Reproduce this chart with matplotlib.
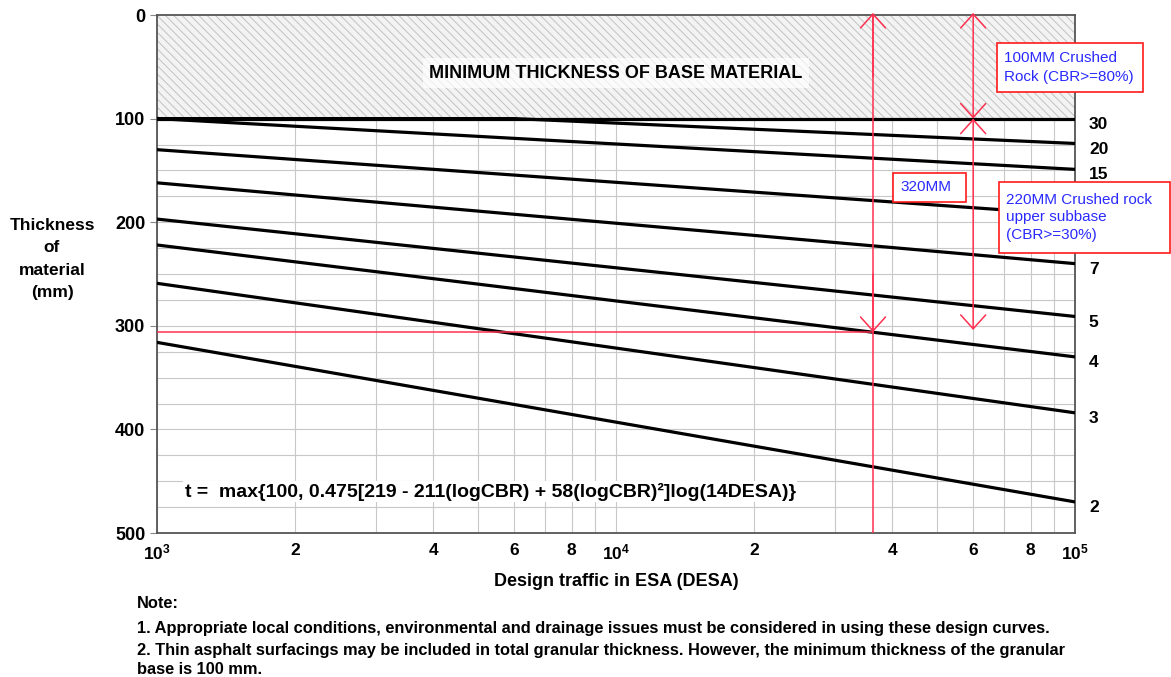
import numpy as np
import matplotlib
matplotlib.use("Agg")
import matplotlib.pyplot as plt
from matplotlib.patches import Rectangle

plt.rcParams['font.family'] = ['Liberation Sans', 'DejaVu Sans']
plt.rcParams['font.weight'] = 'bold'
plt.rcParams['mathtext.fontset'] = 'custom'
plt.rcParams['mathtext.rm'] = 'Liberation Sans:bold'
plt.rcParams['mathtext.bf'] = 'Liberation Sans:bold'
plt.rcParams['mathtext.it'] = 'Liberation Sans:bold'
plt.rcParams['hatch.linewidth'] = 0.7

# CBR design curves: thickness (mm) at DESA = 1e3 and 1e5
cbr_labels = ['30', '20', '15', '10', '7', '5', '4', '3', '2']
desa_ends = [1e3, 1e5]
t_left = [100, 100, 100, 130, 162, 197, 222, 259, 316]
t_right = [100, 124, 149, 193, 240, 291, 330, 384, 470]
# CBR 20 sits on the 100 mm minimum until about 6000 ESA
cbr20_desa = [1e3, 6e3, 1e5]
cbr20_t = [100, 100, 124]

# worked example (red construction lines)
example_desa = 3.63e4
example_t = 306
check_desa = 6.0e4
check_t = 304

xtick_vals = [1e3, 2e3, 3e3, 4e3, 5e3, 6e3, 7e3, 8e3, 9e3,
              1e4, 2e4, 3e4, 4e4, 5e4, 6e4, 7e4, 8e4, 9e4, 1e5]
xtick_text = [r'$10^3$', '2', '', '4', '', '6', '', '8', '',
              r'$10^4$', '2', '', '4', '', '6', '', '8', '', r'$10^5$']

fig = plt.figure(figsize=(11.71, 6.77), dpi=100)
ax = fig.add_axes([157/1171, 1-533/677, (1075-157)/1171, (533-15)/677])

ax.set_xscale('log')
ax.set_xlim(1e3, 1e5)
ax.set_ylim(500, 0)

# minimum base thickness zone
ax.fill_between(desa_ends, [0, 0], [100, 100], facecolor='#f3f3f3',
                edgecolor='#c2c2c2', hatch='\\\\\\\\', linewidth=0, zorder=1)
ax.text(1e4, 56, 'MINIMUM THICKNESS OF BASE MATERIAL', ha='center', va='center',
        fontsize=13, fontweight='bold', zorder=3,
        bbox=dict(facecolor='white', edgecolor='none', pad=5, alpha=0.7))

# grid
ax.set_xticks(xtick_vals)
ax.set_xticklabels(xtick_text)
ax.xaxis.set_minor_locator(matplotlib.ticker.NullLocator())
ax.set_yticks([0, 100, 200, 300, 400, 500])
ax.set_yticks(np.arange(0, 501, 25), minor=True)
ax.grid(True, which='both', color='#c8c8c8', linewidth=0.8, zorder=0)
ax.set_axisbelow(True)
ax.tick_params(axis='x', length=0, pad=7, labelsize=12.5)
ax.tick_params(axis='y', which='major', length=5, labelsize=13, color='#888888')
ax.tick_params(axis='y', which='minor', length=0)
for lab in ax.get_yticklabels():
    lab.set_fontweight('bold')
for s in ax.spines.values():
    s.set_color('#555555')
    s.set_linewidth(1.3)

# design curves (the CBR 10 label is hidden behind the note box, as in the source)
for lab, t0, t1 in zip(cbr_labels, t_left, t_right):
    if lab == '20':
        ax.plot(cbr20_desa, cbr20_t, color='black', linewidth=2.3, zorder=4)
    else:
        ax.plot(desa_ends, [t0, t1], color='black', linewidth=2.3, zorder=4)
    if lab != '10':
        ax.annotate(lab, xy=(1e5, t1), xytext=(10, -4), textcoords='offset points',
                    ha='left', va='center', fontsize=12.5, fontweight='bold',
                    annotation_clip=False)

ax.text(1.15e3, 460, 't =  max{100, 0.475[219 - 211(logCBR) + 58(logCBR)²]log(14DESA)}',
        ha='left', va='center', fontsize=14, fontweight='bold', zorder=5,
        bbox=dict(facecolor='white', edgecolor='none', pad=1))

# red construction lines
red = '#ff3050'
arrow = dict(arrowstyle='->, head_length=1.0, head_width=0.9', color=red, linewidth=1.1,
             shrinkA=0, shrinkB=0)
arrow2 = dict(arrowstyle='<->, head_length=1.0, head_width=0.9', color=red, linewidth=1.1,
              shrinkA=0, shrinkB=0)
ax.plot([1e3, example_desa], [example_t, example_t], color=red, linewidth=1.1, zorder=6)
ax.plot([example_desa, example_desa], [0, 500], color=red, linewidth=1.1, zorder=6)
ax.annotate('', xy=(example_desa, -2), xytext=(example_desa, 60), arrowprops=arrow,
            annotation_clip=False, zorder=6)
ax.annotate('', xy=(example_desa, example_t), xytext=(example_desa, 250), arrowprops=arrow,
            zorder=6)
ax.annotate('', xy=(check_desa, -2), xytext=(check_desa, 100), arrowprops=arrow2,
            annotation_clip=False, zorder=6)
ax.annotate('', xy=(check_desa, 100), xytext=(check_desa, check_t), arrowprops=arrow2,
            zorder=6)

# red-framed notes
blue = '#2a2aff'
boxes = [((997, 43, 146, 49), ['100MM Crushed', 'Rock (CBR>=80%)']),
         ((893, 173, 73, 29), ['320MM']),
         ((999, 182, 171, 71), ['220MM Crushed rock', 'upper subbase', '(CBR>=30%)'])]
for (bx, by, bw, bh), lines in boxes:
    fig.patches.append(Rectangle((bx/1171, 1-(by+bh)/677), bw/1171, bh/677,
                                 transform=fig.transFigure, facecolor='white',
                                 edgecolor='#ff1a1a', linewidth=1.2, zorder=10))
    n = len(lines)
    for i, txt in enumerate(lines):
        cy = by + bh/2 + (i - (n-1)/2) * 18
        fig.text((bx+7)/1171, 1-cy/677, txt, color=blue, fontsize=11,
                 fontweight='normal', ha='left', va='center', zorder=11)

# axis titles
fig.text(52/1171, 1-259/677, 'Thickness\nof\nmaterial\n(mm)', ha='center', va='center',
         fontsize=12.5, fontweight='bold', linespacing=1.6)
fig.text(616/1171, 1-582/677, 'Design traffic in ESA (DESA)', ha='center', va='center',
         fontsize=13, fontweight='bold')

notes = ['Note:',
         '1. Appropriate local conditions, environmental and drainage issues must be considered in using these design curves.',
         '2. Thin asphalt surfacings may be included in total granular thickness. However, the minimum thickness of the granular',
         'base is 100 mm.']
for txt, ny in zip(notes, [604, 628, 651, 669]):
    fig.text(137/1171, 1-ny/677, txt, ha='left', va='center', fontsize=11.8, fontweight='bold')

fig.savefig('out.png', dpi=100)
